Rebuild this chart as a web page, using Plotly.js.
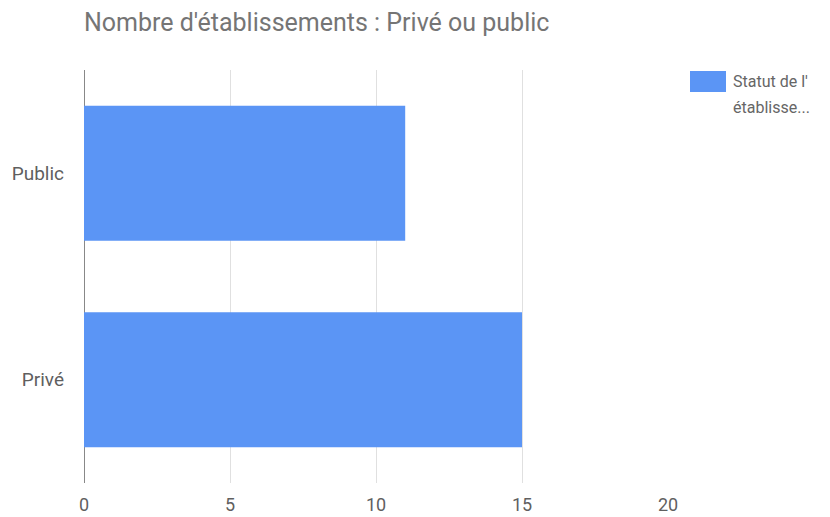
<!DOCTYPE html>
<html>
<head>
<meta charset="utf-8">
<script src="https://cdn.plot.ly/plotly-3.0.1.min.js"></script>
<style>html,body{margin:0;padding:0;background:#fff;}#chart{width:830px;height:517px;}</style>
</head>
<body>
<div id="chart"></div>
<script>
const categories = ['Privé', 'Public'];
const values = [15, 11];
const seriesName = "Statut de l'établissement";
const legendLines = ["Statut de l'", "établisse..."];
const xTicks = [0, 5, 10, 15, 20];
const chartTitle = "Nombre d'établissements : Privé ou public";

const blue = '#5b95f5';
const trace = {
  type: 'bar',
  orientation: 'h',
  x: values,
  y: categories,
  name: seriesName,
  marker: {color: blue},
  showlegend: false,
  hoverinfo: 'x+y'
};

const L = 84, R = 668, T = 70, B = 483;
const px = v => (v - L) / (R - L);
const py = v => (B - v) / (B - T);

const layout = {
  width: 830, height: 517,
  margin: {l: L, r: 830 - R, t: T, b: 517 - B},
  paper_bgcolor: '#fff', plot_bgcolor: '#fff',
  font: {family: 'Roboto, Arial, sans-serif', color: '#5f5f5f', size: 19},
  title: {
    text: chartTitle,
    font: {family: 'Roboto, Arial, sans-serif', size: 25, color: '#757575'},
    x: 0, xanchor: 'left', xref: 'paper',
    y: 1 - 22/517, yanchor: 'middle'
  },
  bargap: 0.346,
  xaxis: {
    range: [0, 20],
    tickvals: xTicks,
    ticktext: xTicks.map(String),
    showgrid: true, gridcolor: '#e0e0e0', gridwidth: 1,
    zeroline: true, zerolinecolor: '#888', zerolinewidth: 1,
    showline: false,
    ticks: '',
    ticklabelstandoff: 9,
    tickfont: {size: 18, color: '#5f5f5f'},
    fixedrange: true
  },
  yaxis: {
    type: 'category',
    categoryorder: 'array',
    categoryarray: categories,
    showgrid: false, zeroline: false, showline: false,
    ticks: '',
    ticklabelstandoff: 19,
    tickfont: {size: 19, color: '#5f5f5f'},
    fixedrange: true
  },
  shapes: [{
    type: 'rect', xref: 'paper', yref: 'paper',
    x0: px(690), x1: px(726),
    y0: py(92), y1: py(71),
    fillcolor: blue, line: {width: 0}
  }],
  annotations: legendLines.map((t, i) => ({
    xref: 'paper', yref: 'paper',
    x: px(731), y: py(82 + i * 26),
    xanchor: 'left', yanchor: 'middle',
    align: 'left',
    showarrow: false,
    text: t,
    font: {size: 16, color: '#666'}
  }))
};

Plotly.newPlot('chart', [trace], layout, {displayModeBar: false, staticPlot: true});
</script>
</body>
</html>
